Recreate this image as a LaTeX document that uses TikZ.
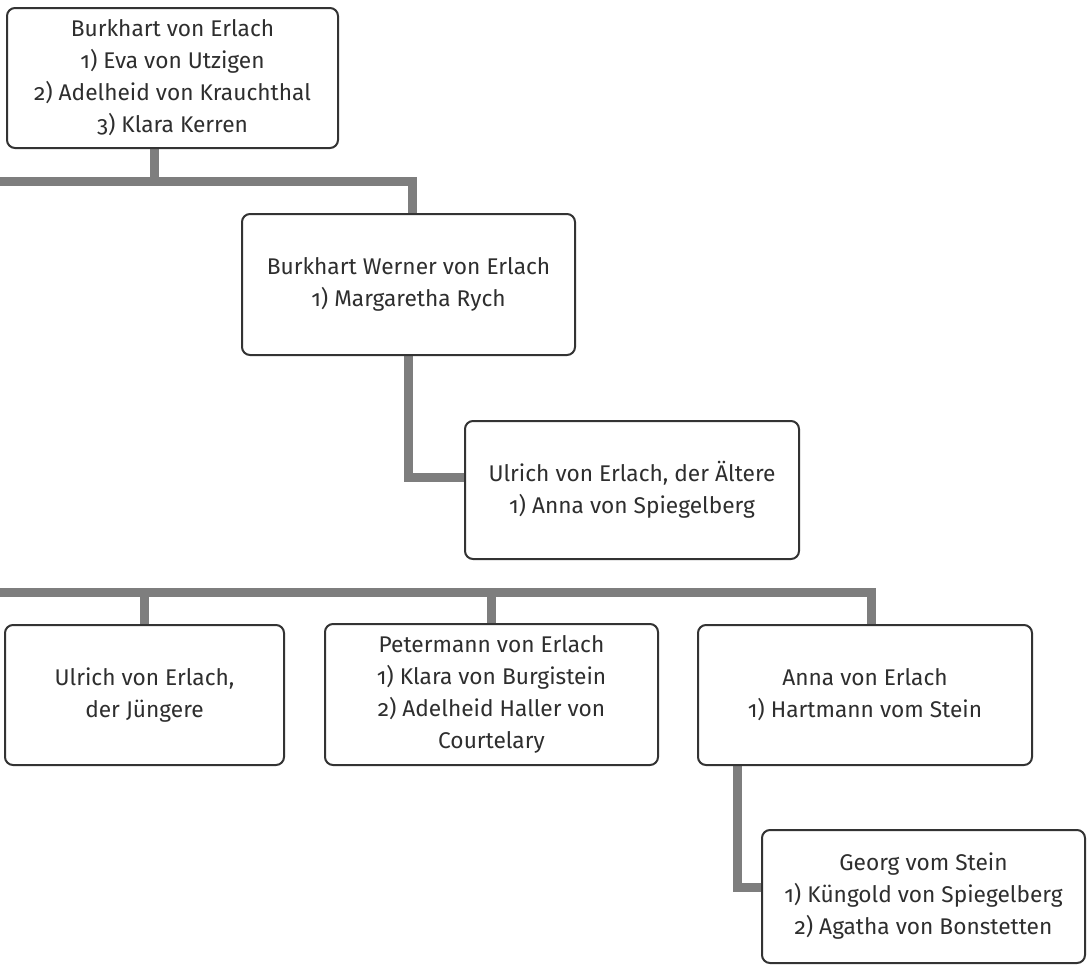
\documentclass[tikz,border=0pt]{standalone}
\usepackage{fontspec}
\setmainfont{Fira Sans}[Numbers=OldStyle]
\usetikzlibrary{backgrounds,calc}
\definecolor{boxc}{HTML}{333333}
\definecolor{txtc}{HTML}{2E2E2E}
\definecolor{linec}{HTML}{7E7E7E}
\begin{document}
\begin{tikzpicture}[x=1pt,y=-1pt,
  box/.style={draw=boxc, line width=2pt, rounded corners=8pt, fill=white,
    align=center, inner sep=0pt, text=txtc,
    font=\fontsize{22.7}{32}\selectfont},
  conn/.style={draw=linec, line width=9pt, line join=miter, line cap=butt}]
\useasboundingbox (0,0) rectangle (1087,967);
\node[box, minimum width=331pt, minimum height=140pt] (b1) at (172.5,78)
  {Burkhart von Erlach\\1) Eva von Utzigen\\2) Adelheid von Krauchthal\\3) Klara Kerren};
\node[box, minimum width=333pt, minimum height=141pt] (b2) at (408.5,284.5)
  {Burkhart Werner von Erlach\\1) Margaretha Rych};
\node[box, minimum width=334pt, minimum height=138pt] (b3) at (632,490)
  {Ulrich von Erlach, der Ältere\\1) Anna von Spiegelberg};
\node[box, minimum width=279pt, minimum height=140pt] (b4) at (144.5,695)
  {Ulrich von Erlach,\\der Jüngere};
\node[box, minimum width=333pt, minimum height=141pt] (b5) at (491.5,694.5)
  {Petermann von Erlach\\1) Klara von Burgistein\\2) Adelheid Haller von\\Courtelary};
\node[box, minimum width=334pt, minimum height=140pt] (b6) at (865,695)
  {Anna von Erlach\\1) Hartmann vom Stein};
\node[box, minimum width=323pt, minimum height=133pt] (b7) at (923.5,896.5)
  {Georg vom Stein\\1) Küngold von Spiegelberg\\2) Agatha von Bonstetten};
\coordinate (L1) at (0,181.5);
\coordinate (L2) at (0,592);
\begin{scope}[on background layer]
  \draw[conn] ([xshift=-18.5pt]b1.south) -- ([xshift=-18.5pt]b1.south |- L1);
  \draw[conn] (L1) -| ([xshift=3.5pt]b2.north);
  \draw[conn] (b2.south) |- (b3.west |- 0,477.5);
  \draw[conn] (L2) -| ([xshift=6pt]b6.north);
  \draw[conn] (b4.north) -- (b4.north |- L2);
  \draw[conn] (b5.north) -- (b5.north |- L2);
  \draw[conn] ([xshift=-128pt]b6.south) |- (b7.west |- 0,887);
\end{scope}
\end{tikzpicture}
\end{document}
